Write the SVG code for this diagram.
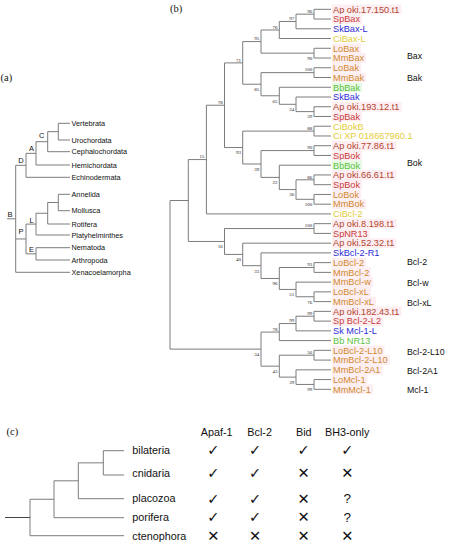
<svg xmlns="http://www.w3.org/2000/svg" width="449" height="550" viewBox="0 0 449 550">
<style>
.ln{fill:none;stroke:#7c7c7c;stroke-width:1}
.lf{font-family:"Liberation Sans",Arial,sans-serif;font-size:9.2px}
.cl{font-family:"Liberation Sans",Arial,sans-serif;font-size:8.8px;fill:#111}
.bs{font-family:"Liberation Serif","Times New Roman",serif;font-size:5px;fill:#222;text-anchor:end}
.pl{font-family:"Liberation Serif","Times New Roman",serif;font-size:10.5px;fill:#111}
.ta{font-family:"Liberation Sans",Arial,sans-serif;font-size:7.3px;fill:#111}
.na{font-family:"Liberation Sans",Arial,sans-serif;font-size:7.5px;fill:#111;text-anchor:middle}
.tc{font-family:"Liberation Sans",Arial,sans-serif;font-size:10.8px;fill:#111}
.sy{font-family:"DejaVu Sans",sans-serif;font-size:14.5px;fill:#111;text-anchor:middle}
.qm{font-family:"Liberation Sans",Arial,sans-serif;font-size:13.5px;fill:#111;text-anchor:middle}
.ap{fill:#b3452e}.sp{fill:#c93c3a}.ver{fill:#d08a2e}.sk{fill:#2b2bd6}.ci{fill:#e3cc38}.bb{fill:#5bc23c}
.pk{fill:#fdeef2}.gn{fill:#e8fae5}
</style>

<!-- panel labels -->
<text class="pl" x="0.5" y="81">(a)</text>
<text class="pl" x="170" y="12">(b)</text>
<text class="pl" x="6.5" y="435">(c)</text>

<!-- ===== (a) ===== -->
<g id="a-connectors">
<path class="ln" d="M70 123.3H58.3V140H70"/>
<path class="ln" d="M58.3 131.65H47.7V151.7H70"/>
<path class="ln" d="M47.7 141.7H36V165H70"/>
<path class="ln" d="M36 153.35H26V177.3H70"/>
<path class="ln" d="M70 194.3H58.3V210.7H70"/>
<path class="ln" d="M58.3 202.5H47.7V224H70"/>
<path class="ln" d="M47.7 213.25H36V235H70"/>
<path class="ln" d="M70 247.7H36V260H70"/>
<path class="ln" d="M36 224.1H26V253.85H36"/>
<path class="ln" d="M26 165.3H15.7V272.3H70M15.7 238.98H26M7 218.8H15.7"/>
</g>
<g id="a-taxa">
<text class="ta" x="71.5" y="125.9">Vertebrata</text>
<text class="ta" x="71.5" y="142.6">Urochordata</text>
<text class="ta" x="71.5" y="154.3">Cephalochordata</text>
<text class="ta" x="71.5" y="167.6">Hemichordata</text>
<text class="ta" x="71.5" y="179.9">Echinodermata</text>
<text class="ta" x="71.5" y="196.9">Annelida</text>
<text class="ta" x="71.5" y="213.3">Mollusca</text>
<text class="ta" x="71.5" y="226.6">Rotifera</text>
<text class="ta" x="71.5" y="237.6">Platyhelminthes</text>
<text class="ta" x="71.5" y="250.3">Nematoda</text>
<text class="ta" x="71.5" y="262.6">Arthropoda</text>
<text class="ta" x="71.5" y="274.9">Xenacoelamorpha</text>
</g>
<g id="a-nodes">
<text class="na" x="41.7" y="138.4">C</text>
<text class="na" x="31.5" y="151">A</text>
<text class="na" x="21" y="163.3">D</text>
<text class="na" x="31.5" y="222.6">L</text>
<text class="na" x="31.5" y="252">E</text>
<text class="na" x="21" y="233.6">P</text>
<text class="na" x="10" y="216.5">B</text>
</g>

<!-- ===== (b) ===== -->
<g id="b-connectors">
<path class="ln" d="M331 9.3H314V19.04H331"/>
<path class="ln" d="M314 14.17H296V28.79H331"/>
<path class="ln" d="M296 21.48H279.3V38.53H331"/>
<path class="ln" d="M331 48.28H314V58.02H331"/>
<path class="ln" d="M279.3 30H261V53.15H314"/>
<path class="ln" d="M331 67.76H314V77.51H331"/>
<path class="ln" d="M331 106.74H314V116.48H331"/>
<path class="ln" d="M331 97H296V111.61H314"/>
<path class="ln" d="M331 87.25H279.3V104.3H296"/>
<path class="ln" d="M314 72.64H261V95.78H279.3"/>
<path class="ln" d="M261 41.58H242.7V84.21H261"/>
<path class="ln" d="M331 126.23H314V135.97H331"/>
<path class="ln" d="M331 145.72H314V155.46H331"/>
<path class="ln" d="M331 174.95H314V184.69H331"/>
<path class="ln" d="M331 194.44H314V204.18H331"/>
<path class="ln" d="M314 179.82H296V199.31H314"/>
<path class="ln" d="M331 165.2H279.3V189.57H296"/>
<path class="ln" d="M314 150.59H261V177.38H279.3"/>
<path class="ln" d="M314 131.1H242.7V163.99H261"/>
<path class="ln" d="M242.7 62.9H224.5V147.54H242.7"/>
<path class="ln" d="M224.5 105.22H206.4V213.92H331"/>
<path class="ln" d="M331 223.67H314V233.41H331"/>
<path class="ln" d="M331 262.64H314V272.39H331"/>
<path class="ln" d="M331 291.88H314V301.62H331"/>
<path class="ln" d="M331 282.13H296V296.75H314"/>
<path class="ln" d="M314 267.51H279.3V289.44H296"/>
<path class="ln" d="M331 252.9H261V278.47H279.3"/>
<path class="ln" d="M331 243.16H242.7V265.69H261"/>
<path class="ln" d="M314 228.54H224.5V254.42H242.7"/>
<path class="ln" d="M206.4 159.57H188.3V241.48H224.5"/>
<path class="ln" d="M331 311.36H314V321.11H331"/>
<path class="ln" d="M314 316.23H296V330.85H331"/>
<path class="ln" d="M296 323.54H279.3V340.6H331"/>
<path class="ln" d="M331 350.34H314V360.08H331"/>
<path class="ln" d="M331 379.57H314V389.32H331"/>
<path class="ln" d="M331 369.83H296V384.45H314"/>
<path class="ln" d="M314 355.21H279.3V377.14H296"/>
<path class="ln" d="M279.3 332.07H261V366.17H279.3"/>
<path class="ln" d="M188.3 200.52H170V349.12H261"/>
</g>

<g id="b-support">
<text class="bs" x="312.2" y="12.9">96</text>
<text class="bs" x="294.2" y="20.2">97</text>
<text class="bs" x="277.5" y="28.7">76</text>
<text class="bs" x="259.2" y="40.3">95</text>
<text class="bs" x="312.2" y="60">90</text>
<text class="bs" x="240.9" y="61.6">71</text>
<text class="bs" x="312.2" y="71.3">100</text>
<text class="bs" x="259.2" y="91">85</text>
<text class="bs" x="277.5" y="102.6">65</text>
<text class="bs" x="294.2" y="111.1">24</text>
<text class="bs" x="312.2" y="118.4">39</text>
<text class="bs" x="222.7" y="103.9">78</text>
<text class="bs" x="312.2" y="129.8">88</text>
<text class="bs" x="240.9" y="154.3">93</text>
<text class="bs" x="312.2" y="149.3">90</text>
<text class="bs" x="259.2" y="170.8">39</text>
<text class="bs" x="312.2" y="178.5">86</text>
<text class="bs" x="277.5" y="184.2">22</text>
<text class="bs" x="294.2" y="196.4">36</text>
<text class="bs" x="312.2" y="206.1">100</text>
<text class="bs" x="204.6" y="158.3">15</text>
<text class="bs" x="312.2" y="227.2">100</text>
<text class="bs" x="222.7" y="248.3">16</text>
<text class="bs" x="240.9" y="261.2">40</text>
<text class="bs" x="259.2" y="272.5">33</text>
<text class="bs" x="312.2" y="266.2">93</text>
<text class="bs" x="277.5" y="285.3">96</text>
<text class="bs" x="294.2" y="296.2">51</text>
<text class="bs" x="312.2" y="303.6">76</text>
<text class="bs" x="312.2" y="314.9">99</text>
<text class="bs" x="294.2" y="322.2">99</text>
<text class="bs" x="277.5" y="330.8">78</text>
<text class="bs" x="259.2" y="355.9">34</text>
<text class="bs" x="312.2" y="353.9">56</text>
<text class="bs" x="277.5" y="373">43</text>
<text class="bs" x="294.2" y="383.9">39</text>
<text class="bs" x="312.2" y="391.3">99</text>
</g>

<g id="b-leaves">
<g id="leaf-0"><rect class="pk" x="332" y="4.43" width="69.5" height="9.74"/><text class="lf ap" x="333" y="12.6">Ap oki.17.150.t1</text></g>
<g id="leaf-1"><rect class="pk" x="332" y="14.17" width="30" height="9.74"/><text class="lf sp" x="333" y="22.34">SpBax</text></g>
<g id="leaf-2"><text class="lf sk" x="333" y="32.09">SkBax-L</text></g>
<g id="leaf-3"><text class="lf ci" x="333" y="41.83">CiBax-L</text></g>
<g id="leaf-4"><rect class="pk" x="332" y="43.41" width="29" height="9.74"/><text class="lf ver" x="333" y="51.58">LoBax</text></g>
<g id="leaf-5"><rect class="pk" x="332" y="53.15" width="34" height="9.74"/><text class="lf ver" x="333" y="61.32">MmBax</text></g>
<g id="leaf-6"><rect class="pk" x="332" y="62.89" width="29" height="9.74"/><text class="lf ver" x="333" y="71.06">LoBak</text></g>
<g id="leaf-7"><rect class="pk" x="332" y="72.64" width="34" height="9.74"/><text class="lf ver" x="333" y="80.81">MmBak</text></g>
<g id="leaf-8"><rect class="gn" x="332" y="82.38" width="30" height="9.74"/><text class="lf bb" x="333" y="90.55">BbBak</text></g>
<g id="leaf-9"><text class="lf sk" x="333" y="100.3">SkBak</text></g>
<g id="leaf-10"><rect class="pk" x="332" y="101.87" width="69.5" height="9.74"/><text class="lf ap" x="333" y="110.04">Ap oki.193.12.t1</text></g>
<g id="leaf-11"><rect class="pk" x="332" y="111.61" width="30" height="9.74"/><text class="lf sp" x="333" y="119.78">SpBak</text></g>
<g id="leaf-12"><text class="lf ci" x="333" y="129.53">CiBokB</text></g>
<g id="leaf-13"><text class="lf ci" x="333" y="139.27">Ci XP 018667960.1</text></g>
<g id="leaf-14"><rect class="pk" x="332" y="140.85" width="64.5" height="9.74"/><text class="lf ap" x="333" y="149.02">Ap oki.77.86.t1</text></g>
<g id="leaf-15"><rect class="pk" x="332" y="150.59" width="30" height="9.74"/><text class="lf sp" x="333" y="158.76">SpBok</text></g>
<g id="leaf-16"><rect class="gn" x="332" y="160.33" width="30" height="9.74"/><text class="lf bb" x="333" y="168.5">BbBok</text></g>
<g id="leaf-17"><rect class="pk" x="332" y="170.08" width="64.5" height="9.74"/><text class="lf ap" x="333" y="178.25">Ap oki.66.61.t1</text></g>
<g id="leaf-18"><rect class="pk" x="332" y="179.82" width="30" height="9.74"/><text class="lf sp" x="333" y="187.99">SpBok</text></g>
<g id="leaf-19"><rect class="pk" x="332" y="189.57" width="29" height="9.74"/><text class="lf ver" x="333" y="197.74">LoBok</text></g>
<g id="leaf-20"><rect class="pk" x="332" y="199.31" width="34" height="9.74"/><text class="lf ver" x="333" y="207.48">MmBok</text></g>
<g id="leaf-21"><text class="lf ci" x="333" y="217.22">CiBcl-2</text></g>
<g id="leaf-22"><rect class="pk" x="332" y="218.8" width="64.5" height="9.74"/><text class="lf ap" x="333" y="226.97">Ap oki.8.198.t1</text></g>
<g id="leaf-23"><rect class="pk" x="332" y="228.54" width="38" height="9.74"/><text class="lf sp" x="333" y="236.71">SpNR13</text></g>
<g id="leaf-24"><rect class="pk" x="332" y="238.29" width="64.5" height="9.74"/><text class="lf ap" x="333" y="246.46">Ap oki.52.32.t1</text></g>
<g id="leaf-25"><text class="lf sk" x="333" y="256.2">SkBcl-2-R1</text></g>
<g id="leaf-26"><rect class="pk" x="332" y="257.77" width="34" height="9.74"/><text class="lf ver" x="333" y="265.94">LoBcl-2</text></g>
<g id="leaf-27"><rect class="pk" x="332" y="267.52" width="39" height="9.74"/><text class="lf ver" x="333" y="275.69">MmBcl-2</text></g>
<g id="leaf-28"><rect class="pk" x="332" y="277.26" width="41" height="9.74"/><text class="lf ver" x="333" y="285.43">MmBcl-w</text></g>
<g id="leaf-29"><rect class="pk" x="332" y="287.01" width="39" height="9.74"/><text class="lf ver" x="333" y="295.18">LoBcl-xL</text></g>
<g id="leaf-30"><rect class="pk" x="332" y="296.75" width="44" height="9.74"/><text class="lf ver" x="333" y="304.92">MmBcl-xL</text></g>
<g id="leaf-31"><rect class="pk" x="332" y="306.49" width="69.5" height="9.74"/><text class="lf ap" x="333" y="314.66">Ap oki.182.43.t1</text></g>
<g id="leaf-32"><rect class="pk" x="332" y="316.24" width="51" height="9.74"/><text class="lf sp" x="333" y="324.41">Sp Bcl-2-L2</text></g>
<g id="leaf-33"><text class="lf sk" x="333" y="334.15">Sk Mcl-1-L</text></g>
<g id="leaf-34"><text class="lf bb" x="333" y="343.9">Bb NR13</text></g>
<g id="leaf-35"><rect class="pk" x="332" y="345.47" width="52.5" height="9.74"/><text class="lf ver" x="333" y="353.64">LoBcl-2-L10</text></g>
<g id="leaf-36"><rect class="pk" x="332" y="355.21" width="57.5" height="9.74"/><text class="lf ver" x="333" y="363.38">MmBcl-2-L10</text></g>
<g id="leaf-37"><rect class="pk" x="332" y="364.96" width="50.5" height="9.74"/><text class="lf ver" x="333" y="373.13">MmBcl-2A1</text></g>
<g id="leaf-38"><rect class="pk" x="332" y="374.7" width="35.5" height="9.74"/><text class="lf ver" x="333" y="382.87">LoMcl-1</text></g>
<g id="leaf-39"><rect class="pk" x="332" y="384.45" width="41" height="9.74"/><text class="lf ver" x="333" y="392.62">MmMcl-1</text></g>
</g>

<g id="b-clades">
<text class="cl" x="407" y="59.3">Bax</text>
<text class="cl" x="407" y="80.9">Bak</text>
<text class="cl" x="407" y="165.6">Bok</text>
<text class="cl" x="407" y="265.3">Bcl-2</text>
<text class="cl" x="407" y="285.9">Bcl-w</text>
<text class="cl" x="407" y="305.9">Bcl-xL</text>
<text class="cl" x="407" y="354.6">Bcl-2-L10</text>
<text class="cl" x="407" y="373.6">Bcl-2A1</text>
<text class="cl" x="407" y="392.6">Mcl-1</text>
</g>

<!-- ===== (c) ===== -->
<g id="c-connectors">
<path class="ln" d="M124 450.7H103.3V475H124"/>
<path class="ln" d="M103.3 462.85H78.3V498.7H124"/>
<path class="ln" d="M78.3 480.8H54V517.7H124"/>
<path class="ln" d="M54 499.25H30V535.7H124"/>
<path fill="none" stroke="#444" stroke-width="1" d="M5 517.5H30"/>
</g>
<g id="c-taxa">
<text class="tc" x="132.3" y="454">bilateria</text>
<text class="tc" x="132.3" y="477.3">cnidaria</text>
<text class="tc" x="132.3" y="502">placozoa</text>
<text class="tc" x="132.3" y="520.5">porifera</text>
<text class="tc" x="132.3" y="539.5">ctenophora</text>
</g>
<g id="c-header">
<text class="tc" x="200.7" y="435.5">Apaf-1</text>
<text class="tc" x="247.3" y="435.5">Bcl-2</text>
<text class="tc" x="296" y="435.5">Bid</text>
<text class="tc" x="325" y="435.5">BH3-only</text>
</g>
<g id="c-table">
<text class="sy" x="213.3" y="455.2">✓</text><text class="sy" x="255" y="455.2">✓</text><text class="sy" x="303.5" y="455.2">✓</text><text class="sy" x="347.3" y="455.2">✓</text>
<text class="sy" x="213.3" y="477.9">✓</text><text class="sy" x="255" y="477.9">✓</text><text class="sy" x="303.5" y="477.9">✕</text><text class="sy" x="347.3" y="477.9">✕</text>
<text class="sy" x="213.3" y="503.5">✓</text><text class="sy" x="255" y="503.5">✓</text><text class="sy" x="303.5" y="503.5">✕</text><text class="qm" x="347.3" y="503.3">?</text>
<text class="sy" x="213.3" y="521.9">✓</text><text class="sy" x="255" y="521.9">✓</text><text class="sy" x="303.5" y="521.9">✕</text><text class="qm" x="347.3" y="521.7">?</text>
<text class="sy" x="213.3" y="540.9">✕</text><text class="sy" x="255" y="540.9">✕</text><text class="sy" x="303.5" y="540.9">✕</text><text class="sy" x="347.3" y="540.9">✕</text>
</g>
</svg>
